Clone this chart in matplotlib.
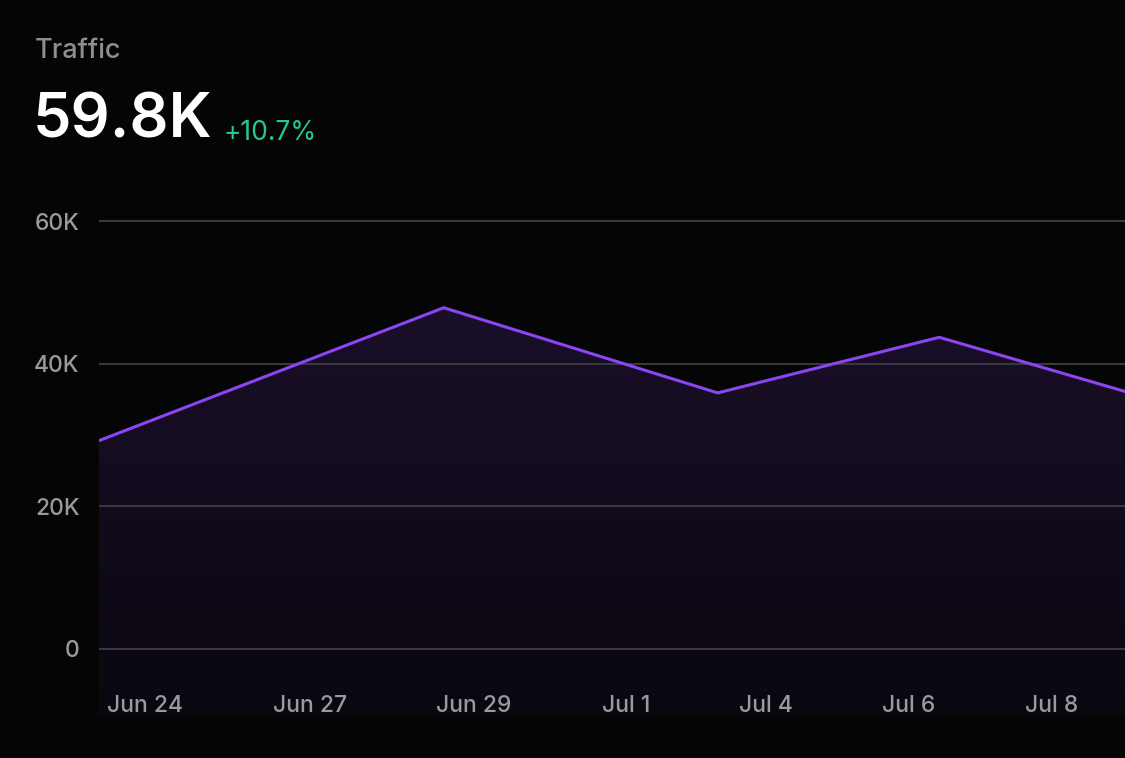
import numpy as np
import matplotlib.pyplot as plt
from matplotlib.colors import LinearSegmentedColormap

plt.rcParams['font.family'] = ['Inter', 'DejaVu Sans']

# data (x on an even 0-100 chart scale)
x_pos = [0, 33.6, 60.3, 81.9, 100]
traffic = [29200, 47850, 35900, 43700, 36100]

tick_pos = [4.5, 20.6, 36.5, 51.4, 65.0, 78.9, 92.8]
tick_labels = ["Jun 24", "Jun 27", "Jun 29", "Jul 1", "Jul 4", "Jul 6", "Jul 8"]
y_ticks = [0, 20000, 40000, 60000]
y_labels = ["0", "20K", "40K", "60K"]

title = "Traffic"
total = "59.8K"
change = "+10.7%"

bg = "#050505"
purple = "#8b45f2"
grid_c = "#393840"
label_c = "#9a9a9e"

fig = plt.figure(figsize=(11.25, 7.58), dpi=100, facecolor=bg)
ax = fig.add_axes([99 / 1125, 43 / 758, 1026 / 1125, (715 - 214) / 758])
ax.set_facecolor(bg)

ymin, ymax = -9300, 61000
ax.set_xlim(0, 100)
ax.set_ylim(ymin, ymax)

# gradient fill under the line
poly = ax.fill_between(x_pos, traffic, ymin, facecolor="none", edgecolor="none")
cmap = LinearSegmentedColormap.from_list(
    "fade", [(0.545, 0.27, 0.95, 0.045), (0.545, 0.27, 0.95, 0.155)])
grad = np.linspace(0, 1, 256).reshape(-1, 1)
im = ax.imshow(grad, cmap=cmap, aspect="auto", origin="lower",
               extent=[0, 100, ymin, max(traffic)], zorder=1)
im.set_clip_path(poly.get_paths()[0], transform=ax.transData)

for yv in y_ticks:
    ax.axhline(yv, color=grid_c, lw=1.5, zorder=2)

ax.plot(x_pos, traffic, color=purple, lw=2.2, zorder=3, solid_joinstyle="miter")

ax.set_xticks(tick_pos)
ax.set_xticklabels(tick_labels, fontweight="medium")
ax.set_yticks(y_ticks)
ax.set_yticklabels(y_labels, fontweight="medium")
ax.tick_params(axis="x", length=0, pad=-14.5, labelsize=16.5, colors=label_c)
ax.tick_params(axis="y", length=0, pad=14, labelsize=16.5, colors=label_c)
for s in ax.spines.values():
    s.set_visible(False)

fig.text(35 / 1125, 1 - 58 / 758, title, fontsize=19.5, color="#8f8f93",
         fontweight="medium", va="baseline", ha="left")
fig.text(33 / 1125, 1 - 138 / 758, total, fontsize=44, color="white",
         fontweight="semibold", va="baseline", ha="left")
fig.text(223 / 1125, 1 - 140 / 758, change, fontsize=19, color="#26c98b",
         va="baseline", ha="left")

fig.savefig("out.png", dpi=100, facecolor=bg)
